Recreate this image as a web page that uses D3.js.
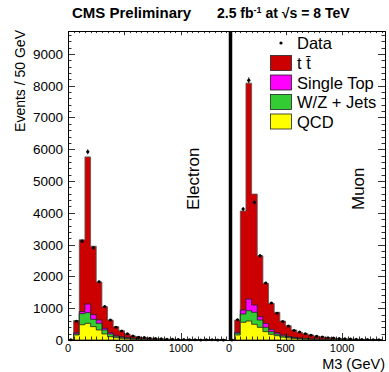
<!DOCTYPE html>
<html>
<head>
<meta charset="utf-8">
<script src="https://cdn.jsdelivr.net/npm/d3@7"></script>
<style>
  body { margin: 0; background: #fff; }
  svg { display: block; font-family: "Liberation Sans", Arial, sans-serif; }
</style>
</head>
<body>
<div id="chart"></div>
<script>
// M3 distributions, 50 GeV bins starting at 0
const binWidth = 50;
const sampleKeys = ['qcd', 'wz', 'singleTop', 'ttbar'];
const legendLabels = ['t t\u0304', 'Single Top', 'W/Z + Jets', 'QCD'];

// Electron channel (per-sample contributions)
const eleQCD = [0, 157, 480, 524, 420, 315, 190, 105, 73, 52, 35, 25, 18, 14, 10, 8, 6, 5, 4, 3, 2, 2, 1, 1, 1, 1, 0, 0];
const eleWZ = [0, 33, 350, 336, 230, 209, 125, 84, 47, 33, 25, 17, 13, 10, 8, 6, 5, 4, 3, 2, 2, 1, 1, 1, 1, 0, 0, 0];
const eleST = [0, 35, 65, 270, 146, 105, 52, 42, 27, 20, 15, 10, 8, 6, 5, 4, 3, 3, 2, 2, 1, 1, 1, 1, 0, 0, 0, 0];
const eleTT = [0, 385, 2255, 4630, 2154, 1195, 681, 398, 272, 188, 114, 74, 56, 45, 35, 27, 22, 16, 13, 10, 9, 7, 5, 4, 4, 3, 3, 2];
const eleData = [4, 590, 3110, 5920, 2900, 1830, 1050, 630, 400, 280, 195, 125, 90, 80, 52, 45, 38, 25, 22, 15, 13, 10, 7, 0, 6, 4, 0, 3];

// Muon channel
const muQCD = [0, 157, 556, 597, 493, 398, 262, 178, 136, 90, 65, 45, 32, 24, 18, 13, 10, 8, 6, 5, 4, 3, 2, 2, 1, 1, 1];
const muWZ = [0, 58, 262, 325, 377, 231, 136, 84, 53, 40, 30, 20, 16, 12, 9, 7, 5, 4, 3, 3, 2, 2, 1, 1, 1, 1, 0];
const muST = [0, 26, 125, 368, 230, 104, 126, 73, 41, 30, 20, 17, 12, 9, 7, 5, 4, 3, 3, 2, 2, 1, 1, 1, 1, 0, 0];
const muTT = [0, 388, 3114, 6790, 3490, 1917, 1259, 819, 640, 437, 335, 233, 181, 154, 123, 95, 76, 60, 48, 38, 30, 24, 19, 15, 12, 10, 8];
const muData = [0, 640, 4120, 8170, 4330, 2650, 1790, 1160, 840, 580, 440, 300, 250, 195, 150, 118, 98, 70, 62, 45, 40, 28, 20, 18, 12, 10, 9];

const yTicks = [0, 1000, 2000, 3000, 4000, 5000, 6000, 7000, 8000, 9000];
const xTicks = [0, 500, 1000];
const colors = { ttbar: '#cc0000', singleTop: '#ff00ff', wz: '#33cc33', qcd: '#ffff00' };

const width = 389, height = 372;
const frame = { left: 68, right: 385, top: 31, bottom: 340, split: 229 };

const svg = d3.select('#chart').append('svg')
  .attr('width', width)
  .attr('height', height);

const y = d3.scaleLinear().domain([0, 9720]).range([frame.bottom, frame.top]);

const panels = [
  { name: 'Electron', x: d3.scaleLinear().domain([0, 1425]).range([frame.left, frame.split]),
    samples: { qcd: eleQCD, wz: eleWZ, singleTop: eleST, ttbar: eleTT }, data: eleData, labelX: 199 },
  { name: 'Muon', x: d3.scaleLinear().domain([0, 1380]).range([frame.split, frame.right]),
    samples: { qcd: muQCD, wz: muWZ, singleTop: muST, ttbar: muTT }, data: muData, labelX: 364 }
];

panels.forEach(p => {
  const nBins = p.data.length;
  const rows = d3.range(nBins).map(i => {
    const r = { lo: i * binWidth };
    sampleKeys.forEach(k => r[k] = p.samples[k][i]);
    return r;
  });
  // close last step
  const last = Object.assign({}, rows[nBins - 1], { lo: nBins * binWidth });
  const stacked = d3.stack().keys(sampleKeys)([...rows, last]);

  const area = d3.area()
    .curve(d3.curveStepAfter)
    .x(d => p.x(d.data.lo))
    .y0(y(0))
    .y1(d => y(d[1]));

  // draw from top of stack down so lower samples overlay
  stacked.slice().reverse().forEach(layer => {
    svg.append('path')
      .attr('d', area(layer))
      .attr('fill', colors[layer.key])
      .attr('stroke', layer.key === 'ttbar' ? '#555' : '#222')
      .attr('stroke-width', 0.8);
  });

  // data points
  const g = svg.append('g');
  p.data.forEach((v, i) => {
    const cx = p.x(i * binWidth + binWidth / 2);
    const err = Math.sqrt(v);
    g.append('line')
      .attr('x1', cx).attr('x2', cx)
      .attr('y1', y(v + err)).attr('y2', y(Math.max(0, v - err)))
      .attr('stroke', '#000').attr('stroke-width', 1);
    g.append('line')
      .attr('x1', cx - 1.5).attr('x2', cx + 1.5)
      .attr('y1', y(v)).attr('y2', y(v))
      .attr('stroke', '#000').attr('stroke-width', 1);
    g.append('circle')
      .attr('cx', cx).attr('cy', y(v)).attr('r', 1.5)
      .attr('fill', '#000');
  });

  // x ticks every bin, major every 500
  const minor = d3.range(0, p.x.domain()[1] + 1, binWidth);
  minor.forEach(t => {
    const major = t % 500 === 0;
    const len = major ? 7 : 3.5;
    const tx = Math.round(p.x(t)) + 0.5;
    svg.append('line').attr('x1', tx).attr('x2', tx)
      .attr('y1', frame.bottom).attr('y2', frame.bottom - len)
      .attr('stroke', '#000').attr('stroke-width', 0.8);
    svg.append('line').attr('x1', tx).attr('x2', tx)
      .attr('y1', frame.top).attr('y2', frame.top + len * 0.6)
      .attr('stroke', '#000').attr('stroke-width', 0.8);
  });
  xTicks.forEach(t => {
    svg.append('text')
      .attr('x', p.x(t))
      .attr('y', 352)
      .attr('text-anchor', 'middle')
      .attr('font-size', 11)
      .text(t);
  });

  svg.append('text')
    .attr('transform', `translate(${p.labelX},210) rotate(-90)`)
    .attr('font-size', 17)
    .text(p.name);
});

// y ticks on both sides, minor every 200
d3.range(0, 9720, 200).forEach(t => {
  const major = t % 1000 === 0;
  const len = major ? 7 : 3.5;
  const ty = Math.round(y(t)) + 0.5;
  svg.append('line').attr('x1', frame.left).attr('x2', frame.left + len)
    .attr('y1', ty).attr('y2', ty).attr('stroke', '#000').attr('stroke-width', 0.8);
  svg.append('line').attr('x1', frame.right).attr('x2', frame.right - len)
    .attr('y1', ty).attr('y2', ty).attr('stroke', '#000').attr('stroke-width', 0.8);
});
yTicks.forEach(t => {
  svg.append('text')
    .attr('x', 63)
    .attr('y', y(t) + 5)
    .attr('text-anchor', 'end')
    .attr('font-size', 13.5)
    .text(t);
});

// frame and divider
svg.append('rect')
  .attr('x', frame.left + 0.5).attr('y', frame.top + 0.5)
  .attr('width', frame.right - frame.left).attr('height', frame.bottom - frame.top)
  .attr('fill', 'none').attr('stroke', '#000').attr('stroke-width', 1);
svg.append('line')
  .attr('x1', 230.5).attr('x2', 230.5)
  .attr('y1', frame.top).attr('y2', frame.bottom)
  .attr('stroke', '#000').attr('stroke-width', 3.5);

// axis titles
svg.append('text')
  .attr('transform', 'translate(25,30) rotate(-90)')
  .attr('text-anchor', 'end')
  .attr('font-size', 14)
  .text('Events / 50 GeV');
svg.append('text')
  .attr('x', 385).attr('y', 369)
  .attr('text-anchor', 'end')
  .attr('font-size', 14.5)
  .text('M3 (GeV)');

// header
svg.append('text')
  .attr('x', 72).attr('y', 18)
  .attr('font-size', 15).attr('font-weight', 'bold')
  .text('CMS Preliminary');
const lumi = svg.append('text')
  .attr('x', 217).attr('y', 18)
  .attr('font-size', 14).attr('font-weight', 'bold');
lumi.append('tspan').text('2.5 fb');
lumi.append('tspan').attr('dy', -5).attr('font-size', 9).text('-1');
lumi.append('tspan').attr('dy', 5).text(' at \u221As = 8 TeV');

// legend
const legend = svg.append('g');
legend.append('circle').attr('cx', 281).attr('cy', 43).attr('r', 1.6).attr('fill', '#000');
legend.append('text').attr('x', 297).attr('y', 49).attr('font-size', 16.5).text('Data');
['ttbar', 'singleTop', 'wz', 'qcd'].forEach((k, i) => {
  const cy = 63 + i * 19.5;
  legend.append('rect')
    .attr('x', 270.5).attr('y', cy - 7.5)
    .attr('width', 21).attr('height', 15)
    .attr('fill', colors[k]).attr('stroke', '#222').attr('stroke-width', 0.8);
  legend.append('text')
    .attr('x', 297).attr('y', cy + 6)
    .attr('font-size', 16.5)
    .text(legendLabels[i]);
});
</script>
</body>
</html>
